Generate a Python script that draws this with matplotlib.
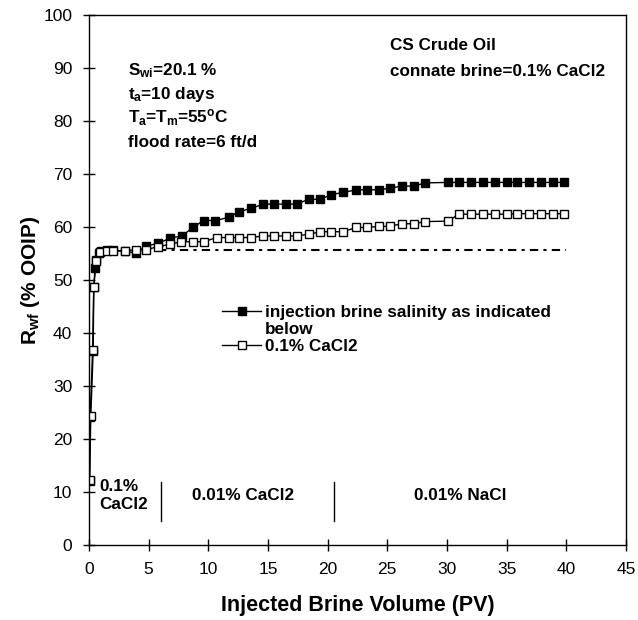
import matplotlib
matplotlib.use('Agg')
import matplotlib.pyplot as plt
from matplotlib.lines import Line2D

plt.rcParams['font.family'] = ['Liberation Sans', 'DejaVu Sans']
plt.rcParams['mathtext.fontset'] = 'custom'
plt.rcParams['mathtext.rm'] = 'Liberation Sans'
plt.rcParams['mathtext.bf'] = 'Liberation Sans:bold'
plt.rcParams['mathtext.it'] = 'Liberation Sans:italic'

# Данные: закачка рассола переменной солёности
pv_var = [0.05, 0.1, 0.3, 0.4, 0.5, 0.6, 0.8, 1.0, 1.5, 2.0, 3.0, 3.9, 4.8, 5.8,
          6.8, 7.8, 8.7, 9.6, 10.6, 11.7, 12.6, 13.6, 14.6, 15.5, 16.5, 17.4,
          18.4, 19.4, 20.3, 21.3, 22.4, 23.3, 24.3, 25.2, 26.2, 27.2, 28.2,
          30.1, 31.0, 32.0, 33.0, 34.0, 35.0, 35.9, 36.9, 37.9, 38.9, 39.8]
rwf_var = [12.0, 24.2, 36.6, 48.6, 52.2, 53.8, 55.0, 55.4, 55.6, 55.6, 55.4, 55.1, 56.4, 56.9,
           57.9, 58.3, 59.9, 61.2, 61.2, 61.8, 62.9, 63.5, 64.3, 64.3, 64.3, 64.3,
           65.2, 65.2, 66.1, 66.5, 67.0, 67.0, 67.0, 67.3, 67.7, 67.7, 68.3,
           68.4, 68.4, 68.4, 68.4, 68.4, 68.4, 68.4, 68.4, 68.4, 68.4, 68.4]

# Данные: постоянный рассол 0.1% CaCl2
pv_const = [0.05, 0.15, 0.35, 0.4, 0.6, 0.9, 1.5, 2.0, 3.0, 3.9, 4.8, 5.8,
            6.8, 7.7, 8.7, 9.6, 10.7, 11.7, 12.6, 13.6, 14.6, 15.5, 16.5, 17.4,
            18.4, 19.4, 20.3, 21.3, 22.4, 23.3, 24.3, 25.2, 26.2, 27.2, 28.2,
            30.1, 31.0, 32.0, 33.0, 34.0, 35.0, 35.9, 36.9, 37.9, 38.9, 39.8]
rwf_const = [12.2, 24.3, 36.7, 48.7, 53.5, 55.3, 55.5, 55.5, 55.5, 55.7, 55.7, 56.3,
             56.7, 57.2, 57.2, 57.2, 58.0, 58.0, 58.0, 58.0, 58.3, 58.3, 58.3, 58.3,
             58.6, 59.1, 59.1, 59.1, 59.9, 59.9, 60.1, 60.1, 60.6, 60.6, 61.0,
             61.1, 62.4, 62.4, 62.4, 62.4, 62.4, 62.5, 62.5, 62.5, 62.5, 62.5]

# Базовая линия (продолжение первого периода)
base_x = [5.8, 40.0]
base_y = [55.6, 55.6]

# Границы периодов закачки
boundary_x = [6.0, 20.5]
boundary_y = [4.6, 11.8]

period_labels = ['0.1%\nCaCl2', '0.01% CaCl2', '0.01% NaCl']
period_x = [0.9, 12.9, 31.1]
period_ha = ['left', 'center', 'center']

FS = 12.3

fig = plt.figure(figsize=(6.38, 6.2), dpi=100)
ax = fig.add_axes([0.1395, 0.121, 0.8415, 0.855])

ax.plot(base_x, base_y, color='black', lw=1.5, linestyle=(0, (4, 2.5, 1.5, 2.5)))
l_var, = ax.plot(pv_var, rwf_var, color='black', lw=1, marker='s', ms=6.3,
                 mfc='black', mec='black', mew=1)
l_const, = ax.plot(pv_const, rwf_const, color='black', lw=1, marker='s', ms=6.3,
                   mfc='white', mec='black', mew=1)

for bx in boundary_x:
    ax.plot([bx, bx], boundary_y, color='black', lw=1)

for lab, px, ha in zip(period_labels, period_x, period_ha):
    ax.text(px, 9.3, lab, ha=ha, va='center', fontsize=FS, fontweight='bold',
            linespacing=1.2)

# Условия эксперимента
cond = [r'S$_{\mathbf{wi}}$=20.1 %', r't$_{\mathbf{a}}$=10 days',
        r'T$_{\mathbf{a}}$=T$_{\mathbf{m}}$=55$^{\mathbf{o}}$C', 'flood rate=6 ft/d']
cond_y = [89.4, 84.9, 80.6, 76.0]
for c, cy in zip(cond, cond_y):
    ax.text(3.3, cy, c, ha='left', va='center', fontsize=FS, fontweight='bold')

ax.text(25.2, 94.2, 'CS Crude Oil', ha='left', va='center', fontsize=FS, fontweight='bold')
ax.text(25.2, 89.4, 'connate brine=0.1% CaCl2', ha='left', va='center', fontsize=FS,
        fontweight='bold')

blank = Line2D([], [], color='none')
leg = ax.legend([l_var, blank, l_const],
                ['injection brine salinity as indicated', 'below', '0.1% CaCl2'],
                loc='upper left', bbox_to_anchor=(0.248, 0.453), frameon=False,
                prop={'weight': 'bold', 'size': FS}, handlelength=2.3,
                handletextpad=0.2, labelspacing=0.12, borderaxespad=0,
                borderpad=0)

ax.set_xlim(0, 45)
ax.set_ylim(0, 100)
ax.set_xticks(range(0, 46, 5))
ax.set_yticks(range(0, 101, 10))
ax.tick_params(direction='inout', length=8, width=1, labelsize=12.5, pad=8)
for s in ax.spines.values():
    s.set_linewidth(1)

ax.set_xlabel('Injected Brine Volume (PV)', fontsize=15.5, fontweight='bold', labelpad=13)
ax.set_ylabel(r'R$_{\mathbf{wf}}$ (% OOIP)', fontsize=15, fontweight='bold')
ax.yaxis.set_label_coords(-0.088, 0.5)

fig.savefig('out.png', dpi=100)
